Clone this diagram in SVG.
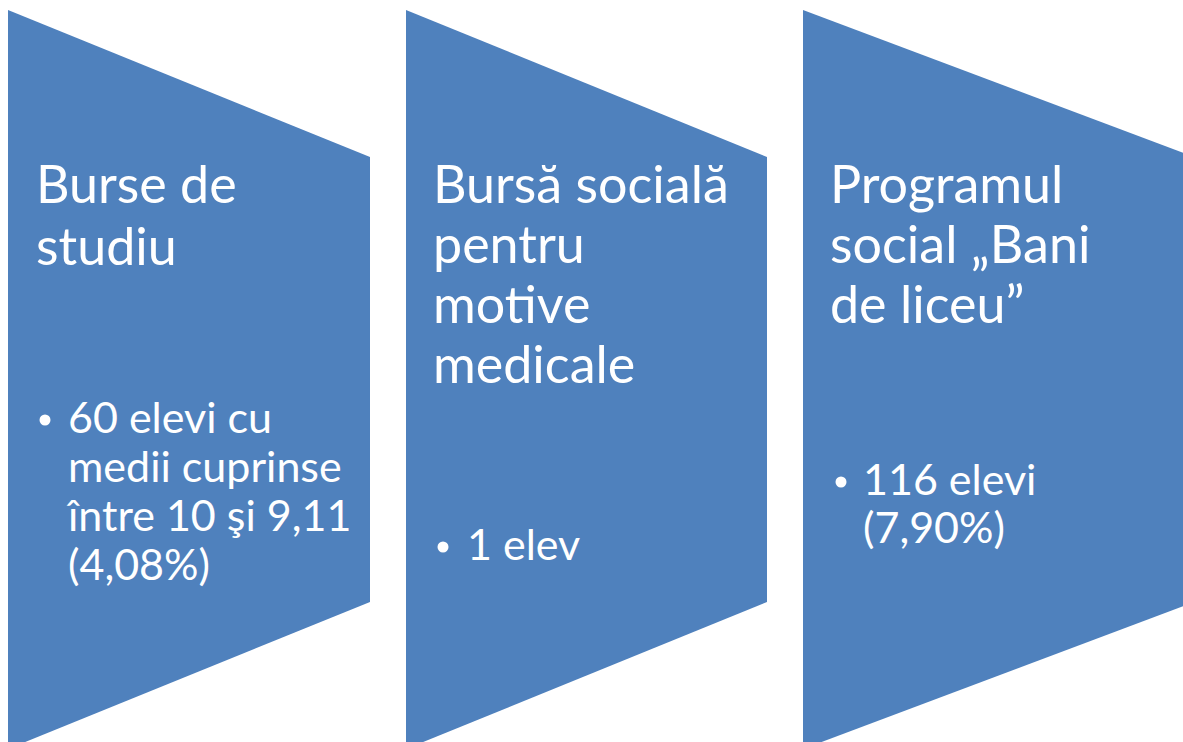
<svg xmlns="http://www.w3.org/2000/svg" width="1183" height="742" viewBox="0 0 1183 742">
<style>
.shape{fill:#4F81BD;}
.title{font-family:Lato,"Liberation Sans",sans-serif;font-size:52px;fill:#ffffff;}
.item{font-family:Lato,"Liberation Sans",sans-serif;font-size:43px;fill:#ffffff;}
.dot{fill:#ffffff;}
</style>
<rect width="1183" height="742" fill="#ffffff"/>
<g id="node1">
<polygon class="shape" points="8,10 370,157 370,602 8,749"/>
<text class="title" x="36" y="203">Burse de</text>
<text class="title" x="36" y="265">studiu</text>
<circle class="dot" cx="45" cy="420" r="5.5"/>
<text class="item" x="68" y="433">60 elevi cu</text>
<text class="item" x="68" y="482">medii cuprinse</text>
<text class="item" x="68" y="531">între 10 şi 9,11</text>
<text class="item" x="68" y="580">(4,08%)</text>
</g>
<g id="node2">
<polygon class="shape" points="406,10 767,157 767,602 406,749"/>
<text class="title" x="433" y="203">Bursă socială</text>
<text class="title" x="433" y="263">pentru</text>
<text class="title" x="433" y="323">motive</text>
<text class="title" x="433" y="383">medicale</text>
<circle class="dot" cx="443" cy="547" r="5.5"/>
<text class="item" x="467" y="560">1 elev</text>
</g>
<g id="node3">
<polygon class="shape" points="803,10 1194,157 1194,602 803,749"/>
<text class="title" x="830" y="203">Programul</text>
<text class="title" x="830" y="263">social „Bani</text>
<text class="title" x="830" y="323">de liceu”</text>
<circle class="dot" cx="841" cy="482" r="5.5"/>
<text class="item" x="863" y="495">116 elevi</text>
<text class="item" x="863" y="543">(7,90%)</text>
</g>
<g id="connectors"></g>
</svg>
